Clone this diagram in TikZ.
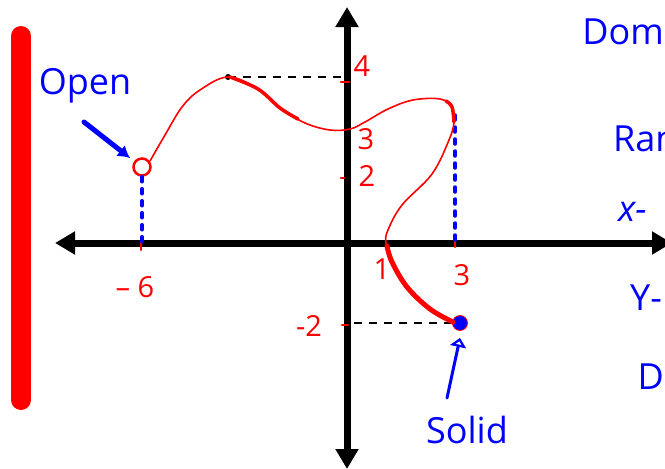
\documentclass[tikz,border=0pt]{standalone}
\usepackage{fontspec}
\setmainfont{Open Sans}
\usetikzlibrary{arrows.meta, positioning}

\begin{document}
\begin{tikzpicture}[x=1pt, y=-1pt,
    axis/.style={line width=7pt, {Triangle[length=20pt,width=22pt]}-{Triangle[length=20pt,width=22pt]}},
    graph/.style={red, line width=1.6pt, line cap=round, line join=round},
    guide/.style={black, line width=1.6pt, dash pattern=on 8pt off 7pt},
    bluedash/.style={blue, line width=3.5pt, line cap=round, dash pattern=on 5pt off 7pt},
    tick/.style={red, line width=2.5pt, line cap=round},
    redlbl/.style={red, inner sep=0pt, font=\fontsize{29}{29}\selectfont},
    bluelbl/.style={blue, inner sep=0pt, font=\fontsize{36}{36}\selectfont}]
    \useasboundingbox (0,0) rectangle (665,469);
    \clip (0,0) rectangle (665,469);
    % red bar
    \draw[red, line width=20pt, line cap=round] (21,36) -- (21,400);
    % axes
    \coordinate (o) at (347,243);
    \draw[axis] (55,243) -- (672,243);
    \draw[axis] (347,7) -- (347,469);
    % ticks and numbers
    \draw[tick] (141,243) -- (141,250); \node[redlbl] (m6) at (135,287) {– 6};
    \draw[tick] (455,240) -- (455,247); \node[redlbl] (x3) at (462,275) {3};
    \node[redlbl] (x1) at (382,269) {1};
    \draw[tick] (341,82) -- (349,82); \node[redlbl] (y4) at (362,66) {4};
    \node[redlbl] (y3) at (366,139) {3};
    \draw[tick] (341,178) -- (344,178); \node[redlbl] (y2) at (367,176) {2};
    \draw[tick] (342,325) -- (348,325); \node[redlbl] (m2) at (309,326) {-2};
    % end points
    \node[circle, draw=red, line width=2.5pt, minimum size=17pt, inner sep=0pt] (openpt) at (142,167) {};
    \node[circle, fill=blue, draw=red, line width=0.8pt, minimum size=15pt, inner sep=0pt] (solidpt) at (460,323) {};
    \coordinate (peak) at (228,77);
    \coordinate (edge) at (455,115);
    % guide lines
    \draw[guide] (peak) -- (peak -| o);
    \fill (peak) circle (3pt);
    \draw[guide] (solidpt.west) -- (solidpt.west -| o);
    \draw[bluedash] (openpt.south) -- (openpt.south |- o);
    \draw[bluedash] (edge) -- ([yshift=3pt]edge |- o);
    % graph
    \draw[graph] plot[smooth, tension=0.6] coordinates {(150,161) (165,135) (182,107) (200,90) (228,77) (258,89) (280,108) (305,123) (330,130) (350,129) (365,122) (388,109) (413,100) (440,99) (452,107) (454,122) (449,140) (432,174) (402,205) (388,230) (386,243) (392,262) (407,287) (430,309) (453,322)};
    \draw[graph, line width=3.5pt] plot[smooth, tension=0.6] coordinates {(230,77) (258,89) (280,108) (298,119)};
    \draw[graph, line width=3.5pt] plot[smooth, tension=0.6] coordinates {(446,101) (452,107) (454,122)};
    \draw[graph, line width=5pt] plot[smooth, tension=0.6] coordinates {(387,246) (392,262) (407,287) (430,309) (453,322)};
    % labels and arrows
    \node[bluelbl] (openlbl) at (85,86) {Open};
    \coordinate (opentail) at (84,122);
    \draw[blue, line width=5pt, line cap=round, -{Latex[length=12pt,width=14pt]}] (opentail) -- ([xshift=-5pt,yshift=2pt]openpt.north west);
    \node[bluelbl] (solidlbl) at (467,430) {Solid};
    \coordinate (solidtail) at (447,398);
    \draw[blue, line width=3pt, line cap=round, -{Triangle[open, length=9pt, width=16pt]}] (solidtail) -- ([yshift=-7pt]solidpt.south);
    % notes, cut off at the edge
    \node[bluelbl, anchor=east] (dom) at (664,32) {Dom};
    \node[bluelbl, anchor=west] (ran) at (613,139) {Ran};
    \node[bluelbl, anchor=west] (xint) at (618,212) {\itshape x-};
    \node[bluelbl, anchor=west] (yint) at (630,298) {Y-};
    \node[bluelbl, anchor=east] (dec) at (664,377) {D};
\end{tikzpicture}
\end{document}
